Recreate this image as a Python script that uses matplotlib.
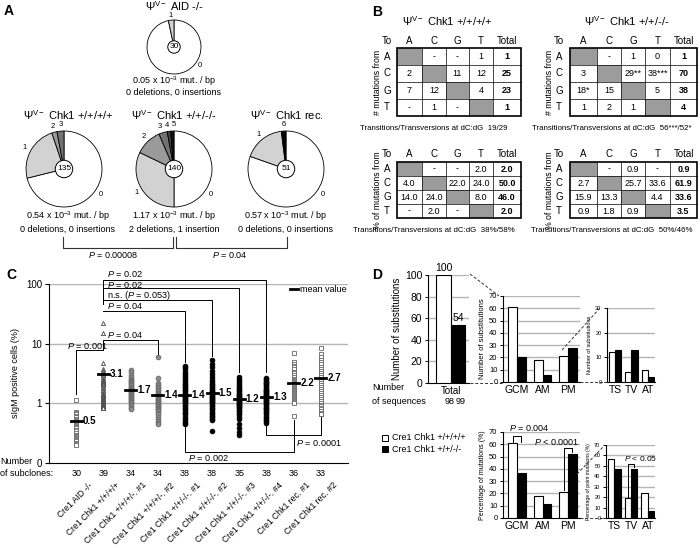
import matplotlib
matplotlib.use('Agg')
import matplotlib.pyplot as plt
import matplotlib.transforms as mtransforms
from matplotlib.patches import Rectangle, Circle
import numpy as np

plt.rcParams['font.family'] = ['Liberation Sans', 'DejaVu Sans']
plt.rcParams['mathtext.fontset'] = 'custom'
plt.rcParams['mathtext.rm'] = 'Liberation Sans'
plt.rcParams['mathtext.it'] = 'Liberation Sans:italic'
plt.rcParams['mathtext.bf'] = 'Liberation Sans:bold'
plt.rcParams['axes.linewidth'] = 0.8

W, H = 700, 548

# ---------------- data ----------------
# A: sequences carrying 0,1,2,... mutations
aid_counts, aid_labels = [29, 1], ['0', '1']
wt_counts, wt_labels = [96, 32, 3, 4], ['0', '1', '2', '3']
het_counts, het_labels = [70, 45, 16, 5, 2, 2], ['0', '1', '2', '3', '4', '5']
rec_counts, rec_labels = [41, 9, 1], ['0', '1', '6']
pie_totals = [30, 135, 140, 51]
mut_rates = ['0.05', '0.54', '1.17', '0.57']
indels = ['0 deletions, 0 insertions', '0 deletions, 0 insertions',
          '2 deletions, 1 insertion', '0 deletions, 0 insertions']

# B: mutation tables (rows: from A,C,G,T; cols: to A,C,G,T,Total)
tab_wt_n = [[None, '-', '-', '1', '1'],
            ['2', None, '11', '12', '25'],
            ['7', '12', None, '4', '23'],
            ['-', '1', '-', None, '1']]
tab_het_n = [[None, '-', '1', '0', '1'],
             ['3', None, '29**', '38***', '70'],
             ['18*', '15', None, '5', '38'],
             ['1', '2', '1', None, '4']]
tab_wt_p = [[None, '-', '-', '2.0', '2.0'],
            ['4.0', None, '22.0', '24.0', '50.0'],
            ['14.0', '24.0', None, '8.0', '46.0'],
            ['-', '2.0', '-', None, '2.0']]
tab_het_p = [[None, '-', '0.9', '-', '0.9'],
             ['2.7', None, '25.7', '33.6', '61.9'],
             ['15.9', '13.3', None, '4.4', '33.6'],
             ['0.9', '1.8', '0.9', None, '3.5']]
ts_tv = ['19/29', '56***/52*', '38%/58%', '50%/46%']

# C: sIgM positive cells (%) per subclone
c_cats = ['Cre1 AID -/-', 'Cre1 Chk1 +/+/+/+', 'Cre1 Chk1 +/+/+/-. #1',
          'Cre1 Chk1 +/+/+/-. #2', 'Cre1 Chk1 +/+/-/-. #1', 'Cre1 Chk1 +/+/-/-. #2',
          'Cre1 Chk1 +/+/-/-. #3', 'Cre1 Chk1 +/+/-/-. #4', 'Cre1 Chk1 rec. #1',
          'Cre1 Chk1 rec. #2']
c_n = [30, 39, 34, 34, 38, 38, 35, 38, 36, 33]
c_means = [0.5, 3.1, 1.7, 1.4, 1.4, 1.5, 1.2, 1.3, 2.2, 2.7]
aid_vals = [1.15, 0.72, 0.68, 0.65, 0.62, 0.6, 0.58, 0.55, 0.52, 0.5, 0.48, 0.46,
            0.44, 0.42, 0.4, 0.38, 0.36, 0.34, 0.32, 0.3, 0.29, 0.28, 0.27, 0.26,
            0.25, 0.24, 0.23, 0.22, 0.21, 0.2]
wt_vals = [22, 15, 4.7, 3.7, 3.5, 3.3, 3.1, 3.0, 2.8, 2.6, 2.5, 2.4, 2.3, 2.2, 2.1,
           2.0, 1.9, 1.8, 1.7, 1.6, 1.5, 1.45, 1.4, 1.35, 1.3, 1.25, 1.2, 1.15, 1.1,
           1.05, 1.0, 0.97, 0.94, 0.92, 0.9, 0.88, 0.86, 0.84, 0.82]
het1_vals = [3.6, 3.3, 3.0, 2.8, 2.6, 2.5, 2.4, 2.3, 2.2, 2.1, 2.0, 1.9, 1.85, 1.8,
             1.75, 1.7, 1.65, 1.6, 1.55, 1.5, 1.45, 1.4, 1.35, 1.3, 1.25, 1.2, 1.15,
             1.1, 1.05, 1.0, 0.95, 0.9, 0.85, 0.8]
het2_vals = [5.9, 2.7, 2.2, 2.0, 1.9, 1.8, 1.7, 1.6, 1.5, 1.45, 1.4, 1.35, 1.3, 1.25,
             1.2, 1.15, 1.1, 1.05, 1.0, 0.97, 0.93, 0.9, 0.87, 0.84, 0.8, 0.77, 0.74,
             0.7, 0.65, 0.6, 0.55, 0.5, 0.47, 0.45]
ko1_vals = [4.3, 4.0, 3.7, 3.4, 3.1, 2.9, 2.7, 2.5, 2.3, 2.1, 2.0, 1.9, 1.8, 1.7, 1.6,
            1.5, 1.45, 1.4, 1.35, 1.3, 1.25, 1.2, 1.15, 1.1, 1.05, 1.0, 0.95, 0.9,
            0.85, 0.8, 0.75, 0.7, 0.65, 0.6, 0.55, 0.5, 0.47, 0.45]
ko2_vals = [5.3, 4.6, 4.0, 3.5, 3.1, 2.8, 2.5, 2.3, 2.1, 2.0, 1.9, 1.8, 1.7, 1.6, 1.55,
            1.5, 1.45, 1.4, 1.35, 1.3, 1.25, 1.2, 1.15, 1.1, 1.05, 1.0, 0.95, 0.9,
            0.85, 0.8, 0.75, 0.7, 0.65, 0.62, 0.58, 0.55, 0.52, 0.34]
ko3_vals = [2.8, 2.6, 2.4, 2.2, 2.0, 1.9, 1.8, 1.7, 1.6, 1.5, 1.45, 1.4, 1.35, 1.3,
            1.25, 1.2, 1.15, 1.1, 1.05, 1.0, 0.97, 0.94, 0.9, 0.86, 0.82, 0.78, 0.74,
            0.7, 0.65, 0.6, 0.55, 0.45, 0.38, 0.33, 0.29]
ko4_vals = [2.7, 2.55, 2.4, 2.3, 2.2, 2.1, 2.0, 1.9, 1.8, 1.7, 1.65, 1.6, 1.55, 1.5,
            1.45, 1.4, 1.35, 1.3, 1.25, 1.2, 1.15, 1.1, 1.05, 1.0, 0.96, 0.92, 0.88,
            0.84, 0.8, 0.76, 0.72, 0.68, 0.64, 0.6, 0.56, 0.53, 0.5, 0.47]
rec1_vals = [6.9, 5.0, 4.6, 4.3, 4.0, 3.7, 3.4, 3.2, 3.0, 2.8, 2.6, 2.5, 2.4, 2.3, 2.2,
             2.1, 2.0, 1.9, 1.8, 1.75, 1.7, 1.65, 1.6, 1.55, 1.5, 1.45, 1.4, 1.35,
             1.3, 1.25, 1.2, 1.15, 1.1, 1.05, 1.0, 0.62]
rec2_vals = [8.5, 6.7, 6.0, 5.4, 4.9, 4.5, 4.1, 3.8, 3.5, 3.2, 3.0, 2.8, 2.6, 2.4, 2.2,
             2.05, 1.9, 1.75, 1.6, 1.5, 1.4, 1.3, 1.2, 1.1, 1.0, 0.95, 0.9, 0.85, 0.8,
             0.75, 0.7, 0.67, 0.65]
c_groups = [aid_vals, wt_vals, het1_vals, het2_vals, ko1_vals, ko2_vals,
            ko3_vals, ko4_vals, rec1_vals, rec2_vals]

# D: substitutions
tot_vals = [100, 54]
seq_n = [98, 99]
mut_cats = ['GCM', 'AM', 'PM']
cnt_wt, cnt_ko = [61, 18, 21], [20, 6, 28]
pt_cats = ['TS', 'TV', 'AT']
ptc_wt, ptc_ko = [12, 4, 5], [13, 13, 2]
pct_wt, pct_ko = [61, 18, 21], [37, 11, 52]
ptp_wt, ptp_ko = [57, 19, 24], [47, 47, 7]

# ---------------- helpers ----------------
fig = plt.figure(figsize=(7, 5.48), dpi=100)


def px_axes(l, t, r, b):
    return fig.add_axes([l / W, 1 - b / H, (r - l) / W, (b - t) / H])


def italp(s):
    return s.replace('P ', '$P$ ')


shade = {'0': 'white', '1': '#d2d2d2', '2': '#9a9a9a', '3': '#737373',
         '4': '#444444', '5': '#111111', '6': '#000000'}


def draw_pie(cx, cy, r, counts, labels, total, label_angles=None):
    label_angles = label_angles or {}
    ax = px_axes(cx - r, cy - r, cx + r, cy + r)
    wedges, _ = ax.pie(counts, colors=[shade[l] for l in labels], startangle=90,
                       counterclock=False,
                       wedgeprops=dict(edgecolor='black', linewidth=0.6))
    ax.set_xlim(-1, 1)
    ax.set_ylim(-1, 1)
    ax.set_aspect('equal')
    ax.axis('off')
    for w, lab in zip(wedges, labels):
        if lab == '0':
            ang = -35
        else:
            ang = label_angles.get(lab, (w.theta1 + w.theta2) / 2)
        a = np.radians(ang)
        ax.text(1.17 * np.cos(a), 1.17 * np.sin(a), lab, ha='center', va='center',
                fontsize=5.5)
    ax.add_patch(Circle((0, 0), 0.23, fc='white', ec='black', lw=0.7, zorder=5))
    ax.text(0, 0, str(total), ha='center', va='center', fontsize=6, zorder=6)


# ---------------- panel A ----------------
pie_specs = [(174, 47, 27, aid_counts, aid_labels, None),
             (64, 169, 38, wt_counts, wt_labels, {'2': 105, '3': 94}),
             (174, 169, 38, het_counts, het_labels, {'3': 108, '4': 99, '5': 90}),
             (286, 169, 38, rec_counts, rec_labels, None)]
for (cx, cy, r, cnt, lab, la), tot in zip(pie_specs, pie_totals):
    draw_pie(cx, cy, r, cnt, lab, tot, la)

# ---------------- panel C ----------------
axc = px_axes(49, 284, 348, 463)
axc.set_yscale('log')
axc.set_ylim(0.1, 100)
axc.set_xlim(-1, 10)
for v in [1, 10, 100]:
    axc.axhline(v, color='#b4b4b4', lw=1.0, zorder=0)
axc.spines['top'].set_visible(False)
axc.spines['right'].set_visible(False)
axc.set_yticks([0.1, 1, 10, 100])
axc.set_yticklabels(['0', '1', '10', '100'], fontsize=7)
axc.yaxis.set_minor_locator(matplotlib.ticker.NullLocator())
axc.tick_params(axis='y', length=3, width=0.8, pad=2)
axc.set_ylabel('sIgM positive cells (%)', fontsize=6.5, labelpad=4)
axc.set_xticks(range(len(c_cats)))
axc.set_xticklabels(c_cats, rotation=45, ha='right', va='center',
                    rotation_mode='anchor', fontsize=6.2)
axc.tick_params(axis='x', length=0, pad=15)
shift = mtransforms.ScaledTranslation(0.15, 0, fig.dpi_scale_trans)
for t in axc.get_xticklabels():
    t.set_transform(t.get_transform() + shift)

styles = [dict(marker='s', mfc='white', mec='#666666'),
          dict(marker='^', mfc='white', mec='#444444'),
          dict(marker='o', mfc='#8c8c8c', mec='#6a6a6a'),
          dict(marker='o', mfc='#8c8c8c', mec='#6a6a6a'),
          dict(marker='o', mfc='black', mec='black'),
          dict(marker='o', mfc='black', mec='black'),
          dict(marker='o', mfc='black', mec='black'),
          dict(marker='o', mfc='black', mec='black'),
          dict(marker='s', mfc='white', mec='#666666'),
          dict(marker='s', mfc='white', mec='#666666')]
for i, (vals, st) in enumerate(zip(c_groups, styles)):
    ms = 3.4 if st['marker'] == 'o' else 3.0
    axc.plot(np.full(len(vals), i), vals, ls='none', ms=ms, mew=0.6, zorder=3, **st)
    axc.plot([i - 0.2, i + 0.2], [c_means[i], c_means[i]], color='black', lw=2, zorder=4)
    axc.text(i + 0.24, c_means[i], f'{c_means[i]:.1f}', fontsize=7, weight='bold',
             va='center', ha='left', zorder=5)

cnt_tr = mtransforms.blended_transform_factory(axc.transData, fig.transFigure)
for i, n in enumerate(c_n):
    axc.text(i, 1 - 473 / H, str(n), transform=cnt_tr, ha='center', va='center',
             fontsize=6.5)


def cline(xs, ys):
    axc.plot(xs, ys, color='black', lw=0.7, clip_on=False, zorder=2)


cline([1, 1, 7, 7], [47, 115, 115, 3.3])
cline([1, 6, 6], [85, 85, 3.4])
cline([1, 5, 5], [53, 53, 6.3])
cline([1, 4, 4], [35, 35, 4.9])
cline([1, 1, 3, 3], [7.7, 11.4, 11.4, 6.5])
cline([0, 0, 1], [1.45, 7.7, 7.7])
cline([4, 4, 8, 8], [0.42, 0.15, 0.15, 0.52])
cline([7, 7, 9, 9], [0.44, 0.29, 0.29, 0.58])
ptxt = [(1.15, 148, 'P = 0.02', 'left'), (1.15, 98, 'P = 0.02', 'left'),
        (1.15, 65, 'n.s. (P = 0.053)', 'left'), (1.15, 42, 'P = 0.04', 'left'),
        (1.15, 14.0, 'P = 0.04', 'left'), (0.43, 9.0, 'P = 0.001', 'center'),
        (4.1, 0.122, 'P = 0.002', 'left'), (8.1, 0.22, 'P = 0.0001', 'left')]
for x, y, s, ha in ptxt:
    axc.text(x, y, italp(s), fontsize=6.6, ha=ha, va='center', clip_on=False)
axc.plot([0.806, 0.834], [0.972, 0.972], transform=axc.transAxes, color='black', lw=2)
axc.text(0.84, 0.972, 'mean value', transform=axc.transAxes, fontsize=6.5,
         va='center', ha='left')

# ---------------- panel D ----------------
def style_bar_axes(ax, ymax, step, tick_fs, ylabel, lab_fs):
    ax.set_ylim(0, ymax)
    ticks = np.arange(0, ymax + 1, step)
    ax.set_yticks(ticks)
    ax.set_yticklabels([str(int(t)) for t in ticks], fontsize=tick_fs)
    for t in ticks[1:]:
        ax.axhline(t, color='#b4b4b4', lw=1.0, zorder=0)
    ax.spines['top'].set_visible(False)
    ax.spines['right'].set_visible(False)
    ax.tick_params(axis='y', length=2.5, width=0.7, pad=1.5)
    ax.tick_params(axis='x', length=0, pad=2, labelsize=7.5)
    ax.set_ylabel(ylabel, fontsize=lab_fs, labelpad=2)


bar_kw = dict(edgecolor='black', linewidth=0.8, zorder=3)

axt = px_axes(428, 275, 469, 383)
axt.bar([-0.24], [tot_vals[0]], width=0.48, color='white', **bar_kw)
axt.bar([0.24], [tot_vals[1]], width=0.48, color='black', **bar_kw)
axt.set_xlim(-0.76, 0.6)
style_bar_axes(axt, 100, 20, 7.5, 'Number of substitutions', 7)
axt.set_xticks([0])
axt.set_xticklabels(['Total'], fontsize=7)
axt.text(-0.24, tot_vals[0] + 2, str(tot_vals[0]), ha='center', va='bottom', fontsize=7.5)
axt.text(0.24, tot_vals[1] + 2, str(tot_vals[1]), ha='center', va='bottom', fontsize=7.5)


def grouped(ax, cats, wt, ko, w):
    x = np.arange(len(cats))
    ax.bar(x - w / 2, wt, width=w, color='white', **bar_kw)
    ax.bar(x + w / 2, ko, width=w, color='black', **bar_kw)
    ax.set_xticks(x)
    ax.set_xticklabels(cats)


axn = px_axes(503, 296, 580, 382)
grouped(axn, mut_cats, cnt_wt, cnt_ko, 0.34)
axn.set_xlim(-0.55, 2.47)
style_bar_axes(axn, 70, 10, 5.5, 'Number of substitutions', 5.5)

axn2 = px_axes(607, 308, 655, 382)
grouped(axn2, pt_cats, ptc_wt, ptc_ko, 0.38)
axn2.set_xlim(-0.48, 2.42)
style_bar_axes(axn2, 30, 10, 4, 'Number of substitutions', 4)

axp = px_axes(503, 432, 580, 518)
grouped(axp, mut_cats, pct_wt, pct_ko, 0.34)
axp.set_xlim(-0.55, 2.47)
style_bar_axes(axp, 70, 10, 5.5, 'Percentage of mutations (%)', 5)

axp2 = px_axes(606, 445, 655, 518)
grouped(axp2, pt_cats, ptp_wt, ptp_ko, 0.38)
axp2.set_xlim(-0.48, 2.42)
style_bar_axes(axp2, 70, 10, 4, 'Percentage of point mutations (%)', 3.6)


def dline(ax, xs, ys):
    ax.plot(xs, ys, color='black', lw=0.7, clip_on=False, zorder=4)


dline(axp, [-0.17, -0.17, 0.17, 0.17], [62, 67, 67, 62])
axp.text(-0.3, 73, italp('P = 0.004'), fontsize=6.5, ha='left', va='center')
dline(axp, [1.83, 1.83, 2.17, 2.17], [23, 57, 57, 53.5])
axp.text(2.45, 62, italp('P < 0.0001'), fontsize=6.5, ha='right', va='center')
dline(axp2, [0.81, 0.81, 1.19, 1.19], [20.5, 52, 52, 48.5])
axp2.text(0.6, 57, italp('P < 0.05'), fontsize=6, ha='left', va='center')

# ---------------- overlay (pixel coordinates) ----------------
ov = fig.add_axes([0, 0, 1, 1], zorder=10)
ov.set_xlim(0, W)
ov.set_ylim(H, 0)
ov.axis('off')

# panel letters
for s, x, y in [('A', 4, 11), ('B', 372, 12), ('C', 6, 275), ('D', 372, 275)]:
    ov.text(x, y, s, fontsize=10, weight='bold', ha='left', va='center')

# A texts
titles = [('AID -/-', 174, 6), ('Chk1 +/+/+/+', 68, 115),
          ('Chk1 +/+/-/-', 174, 115), ('Chk1 rec.', 287, 115)]
for s, x, y in titles:
    ov.text(x, y, 'Ψ$^{\\mathrm{V-}}$ ' + s, fontsize=8, ha='center', va='center')
sub_pos = [(174, 81, 92), (68, 216, 229), (174, 216, 229), (286, 216, 229)]
for (x, y1, y2), rate, ind in zip(sub_pos, mut_rates, indels):
    ov.text(x, y1, rate + r' x 10$^{-3}$ mut. / bp', fontsize=6.5, ha='center', va='center')
    ov.text(x, y2, ind, fontsize=6.5, ha='center', va='center')
ov.plot([63, 63, 173, 173], [237, 248, 248, 237], color='#333333', lw=0.8)
ov.plot([176, 176, 287, 287], [237, 248, 248, 237], color='#333333', lw=0.8)
ov.text(113, 255, italp('P = 0.00008'), fontsize=6.5, ha='center', va='center')
ov.text(230, 255, italp('P = 0.04'), fontsize=6.5, ha='center', va='center')

# B tables
ov.text(447, 21, 'Ψ$^{\\mathrm{V-}}$ Chk1 +/+/+/+', fontsize=8, ha='center', va='center')
ov.text(627, 21, 'Ψ$^{\\mathrm{V-}}$ Chk1 +/+/-/-', fontsize=8, ha='center', va='center')


def draw_table(xe, ye, cells, lab_x, head_y, side_x, side_txt, foot_x, foot_y, foot):
    heads = ['A', 'C', 'G', 'T', 'Total']
    ov.text(lab_x, head_y, 'To', fontsize=7, ha='center', va='center')
    for j, h in enumerate(heads):
        ov.text((xe[j] + xe[j + 1]) / 2, head_y, h, fontsize=7, ha='center', va='center')
    for i, row in enumerate(cells):
        yc = (ye[i] + ye[i + 1]) / 2
        ov.text(lab_x, yc, 'ACGT'[i], fontsize=7, ha='center', va='center')
        for j, val in enumerate(row):
            if val is None:
                ov.add_patch(Rectangle((xe[j], ye[i]), xe[j + 1] - xe[j], ye[i + 1] - ye[i],
                                       fc='#9c9c9c', ec='none'))
            else:
                ov.text((xe[j] + xe[j + 1]) / 2, yc, val, fontsize=6.5, ha='center',
                        va='center', weight='bold' if j == 4 else 'normal')
    for x in xe[1:-1]:
        ov.plot([x, x], [ye[0], ye[-1]], color='black', lw=0.5)
    for y in ye[1:-1]:
        ov.plot([xe[0], xe[-1]], [y, y], color='black', lw=0.5)
    ov.add_patch(Rectangle((xe[0], ye[0]), xe[-1] - xe[0], ye[-1] - ye[0], fc='none',
                           ec='black', lw=1.2))
    ov.text(side_x, (ye[0] + ye[-1]) / 2, side_txt, rotation=90, fontsize=6.3,
            ha='center', va='center')
    ov.text(foot_x, foot_y, 'Transitions/Transversions at dC:dG  ' + foot, fontsize=5.7,
            ha='center', va='center')


xe_l = [397, 422, 446, 469, 493, 521]
xe_r = [570, 597, 621, 645, 670, 697]
ye_t = [48, 65, 82, 99, 116]
ye_b = [162, 176, 190, 204, 218]
draw_table(xe_l, ye_t, tab_wt_n, 387, 41, 378, '# mutations from', 434, 129, ts_tv[0])
draw_table(xe_r, ye_t, tab_het_n, 559, 41, 550, '# mutations from', 612, 129, ts_tv[1])
draw_table(xe_l, ye_b, tab_wt_p, 387, 154, 378, '% of mutations from', 434, 231, ts_tv[2])
draw_table(xe_r, ye_b, tab_het_p, 559, 154, 550, '% of mutations from', 612, 231, ts_tv[3])

# C subclone caption
ov.text(0, 462, 'Number', fontsize=6.5, ha='left', va='center')
ov.text(0, 473, 'of subclones:', fontsize=6.5, ha='left', va='center')

# D captions, legend and zoom lines
ov.text(372, 388, 'Number', fontsize=6.5, ha='left', va='center')
ov.text(372, 401, 'of sequences', fontsize=6.5, ha='left', va='center')
ov.text(450, 401, str(seq_n[0]), fontsize=6.5, ha='center', va='center')
ov.text(461, 401, str(seq_n[1]), fontsize=6.5, ha='center', va='center')
ov.add_patch(Rectangle((382, 435), 6, 6, fc='white', ec='black', lw=0.7))
ov.add_patch(Rectangle((382, 446), 6, 6, fc='black', ec='black', lw=0.7))
ov.text(392, 438, 'Cre1 Chk1 +/+/+/+', fontsize=6.5, ha='left', va='center')
ov.text(392, 449, 'Cre1 Chk1 +/+/-/-', fontsize=6.5, ha='left', va='center')
dash = dict(color='#333333', lw=0.7, ls=(0, (3, 2)))
ov.plot([470, 499], [274, 296], **dash)
ov.plot([470, 503], [383, 383], **dash)
ov.plot([562, 600], [350, 308], **dash)
ov.plot([580, 607], [382, 382], **dash)
ov.plot([577, 604], [474, 446], **dash)
ov.plot([580, 606], [518, 518], **dash)

fig.savefig('out.png', dpi=100)
